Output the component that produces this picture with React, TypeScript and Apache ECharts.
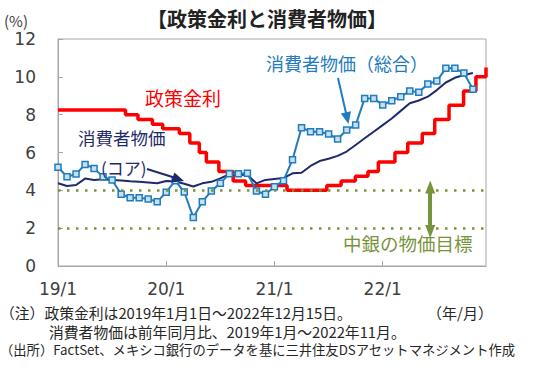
import React, { useEffect, useRef } from "react";
import * as echarts from "echarts";

// ---- data ----
const cpiStart = "2019-01";
const cpiTotal = [5.22, 4.72, 4.86, 5.37, 5.16, 4.72, 4.55, 3.79, 3.61, 3.61, 3.54, 3.40,
  3.90, 4.51, 3.91, 2.57, 3.40, 3.96, 4.37, 4.88, 4.88, 4.90, 3.96, 3.79,
  4.19, 4.51, 5.62, 7.31, 7.10, 7.10, 6.98, 6.71, 7.19, 7.45, 8.86, 8.86,
  8.51, 8.74, 8.95, 9.25, 9.18, 9.62, 9.78, 10.45, 10.45, 10.20, 9.34];
const cpiCore = [4.37, 4.23, 4.28, 4.62, 4.55, 4.58, 4.55, 4.52, 4.48, 4.45, 4.42, 4.37,
  4.49, 4.47, 4.35, 4.20, 4.37, 4.45, 4.63, 4.85, 4.83, 4.81, 4.37, 4.55,
  4.60, 4.65, 4.90, 4.93, 5.29, 5.55, 5.67, 5.82, 6.05, 6.40, 6.75, 7.10,
  7.45, 7.80, 8.20, 8.60, 8.75, 8.95, 9.30, 9.70, 9.95, 10.10, 10.20];
const rateDates = ["2019-01-01", "2019-08-16", "2019-09-27", "2019-11-15", "2019-12-20",
  "2020-02-14", "2020-03-20", "2020-04-21", "2020-05-15", "2020-06-26", "2020-08-14",
  "2020-09-25", "2021-02-12", "2021-06-25", "2021-08-13", "2021-09-30", "2021-11-12",
  "2021-12-17", "2022-02-11", "2022-03-25", "2022-05-13", "2022-06-24", "2022-08-12",
  "2022-09-30", "2022-11-11", "2022-12-15"];
const rateValues = [8.25, 8.0, 7.75, 7.5, 7.25, 7.0, 6.5, 6.0, 5.5, 5.0, 4.5, 4.25, 4.0,
  4.25, 4.5, 4.75, 5.0, 5.5, 6.0, 6.5, 7.0, 7.75, 8.5, 9.25, 10.0, 10.5];
const targetRange = [2, 4];
const xTickLabels = ["19/1", "20/1", "21/1", "22/1"];
const xStart = "2019-01-01";
const xEnd = "2022-12-15";
const arrowDate = "2022-06-09";

// month-index scale helper (months since xStart, fractional by day)
const monthIndex = (d: string) => {
  const [y, m, dd] = d.split("-").map(Number);
  const [y0, m0] = xStart.split("-").map(Number);
  const days = new Date(y, m, 0).getDate();
  return (y - y0) * 12 + (m - m0) + ((dd || 1) - 1) / days;
};
const cpiX = (i: number) => monthIndex(cpiStart + "-01") + i;

const JP = "'Noto Sans CJK JP', sans-serif";
const NUM = "'DejaVu Sans', sans-serif";
const RED = "#FF0000";
const BLUE = "#1F7CBD";
const NAVY = "#1F2A6B";
const GREEN = "#77933C";

export default function App() {
  const ref = useRef<HTMLDivElement>(null);
  useEffect(() => {
    if (!ref.current) return;
    const chart = echarts.init(ref.current, undefined, { renderer: "svg" });
    const txt = (text: string, x: number, y: number, fill: string, fontSize: number, extra: any = {}) => ({
      type: "text",
      x,
      y,
      style: {
        text, fill, fontSize, fontFamily: JP,
        textAlign: "left", textVerticalAlign: "middle", align: "left", verticalAlign: "middle",
        ...extra,
      },
      z: 100,
    });
    const ax = monthIndex(arrowDate);
    chart.setOption({
      animation: false,
      grid: { left: 58, top: 39, width: 428, height: 227, show: true, borderColor: "#A6A6A6", borderWidth: 1 },
      xAxis: {
        type: "value",
        min: 0,
        max: monthIndex(xEnd),
        interval: 12,
        axisLine: { show: true, lineStyle: { color: "#A6A6A6", width: 1 } },
        axisTick: { show: true, inside: true, length: 5, lineStyle: { color: "#A6A6A6" } },
        splitLine: { show: false },
        axisLabel: {
          showMaxLabel: false,
          margin: 14,
          fontSize: 17,
          fontFamily: NUM,
          color: "#404040",
          formatter: (v: number) => (Math.abs(v % 12) < 1e-6 ? xTickLabels[Math.round(v / 12)] ?? "" : ""),
        },
      },
      yAxis: {
        type: "value",
        min: 0,
        max: 12,
        interval: 2,
        axisLine: { show: true, lineStyle: { color: "#A6A6A6", width: 1 } },
        axisTick: { show: true, inside: true, length: 5, lineStyle: { color: "#A6A6A6" } },
        splitLine: { show: false },
        axisLabel: { margin: 22, fontSize: 17, fontFamily: NUM, color: "#404040" },
      },
      series: [
        {
          type: "line",
          data: [],
          markLine: {
            silent: true,
            symbol: ["none", "none"],
            label: { show: false },
            lineStyle: { color: GREEN, width: 2.5, type: [2.5, 6.5] },
            data: [
              { yAxis: targetRange[0] },
              { yAxis: targetRange[1] },
              [
                { coord: [ax, targetRange[1] + 0.17], symbol: "triangle", symbolSize: [10, 13],
                  lineStyle: { color: GREEN, width: 4, type: "solid" } },
                { coord: [ax, targetRange[0] - 0.17], symbol: "triangle", symbolSize: [10, 13] },
              ],
            ],
          },
        },
        {
          name: "政策金利",
          type: "line",
          step: "end",
          symbol: "none",
          data: rateDates.map((d, i) => [monthIndex(d), rateValues[i]]),
          lineStyle: { color: RED, width: 3.5 },
          itemStyle: { color: RED },
        },
        {
          name: "消費者物価（コア）",
          type: "line",
          symbol: "none",
          data: cpiCore.map((v, i) => [cpiX(i), v]),
          lineStyle: { color: NAVY, width: 2 },
          itemStyle: { color: NAVY },
        },
        {
          name: "消費者物価（総合）",
          type: "line",
          symbol: "rect",
          symbolSize: 6,
          data: cpiTotal.map((v, i) => [cpiX(i), v]),
          lineStyle: { color: BLUE, width: 2 },
          itemStyle: { color: "#C9DFF2", borderColor: BLUE, borderWidth: 1.5 },
        },
      ],
      graphic: [
        txt("【政策金利と消費者物価】", 267, 18, "#222", 20, { fontWeight: "bold", textAlign: "center", align: "center" }),
        txt("(%)", 4, 20, "#404040", 15),
        txt("政策金利", 145, 97, RED, 19),
        txt("消費者物価", 78, 137, NAVY, 17.5),
        txt("(コア)", 101, 167, NAVY, 17),
        txt("消費者物価（総合）", 266, 63, BLUE, 18),
        txt("中銀の物価目標", 343, 243, GREEN, 18.5),
        txt("（注）政策金利は2019年1月1日～2022年12月15日。", 0, 312, "#262626", 14.8),
        txt("消費者物価は前年同月比、2019年1月～2022年11月。", 49, 331, "#262626", 14.8),
        txt("（年/月）", 427, 312, "#262626", 15),
        txt("（出所）FactSet、メキシコ銀行のデータを基に三井住友DSアセットマネジメント作成", 0, 349, "#262626", 13.3),
        { type: "line", shape: { x1: 147, y1: 169, x2: 174, y2: 177.5 }, style: { stroke: NAVY, lineWidth: 2 }, z: 100 },
        { type: "polygon", shape: { points: [[184, 181], [171, 182.6], [174.4, 172.4]] }, style: { fill: NAVY }, z: 100 },
        { type: "line", shape: { x1: 338, y1: 78, x2: 346, y2: 113 }, style: { stroke: BLUE, lineWidth: 2 }, z: 100 },
        { type: "polygon", shape: { points: [[348.5, 124], [340.8, 113.6], [351, 111.3]] }, style: { fill: BLUE }, z: 100 },
      ],
    });
    return () => chart.dispose();
  }, []);
  return <div ref={ref} style={{ position: "absolute", left: 0, top: 0, width: 550, height: 375 }} />;
}
